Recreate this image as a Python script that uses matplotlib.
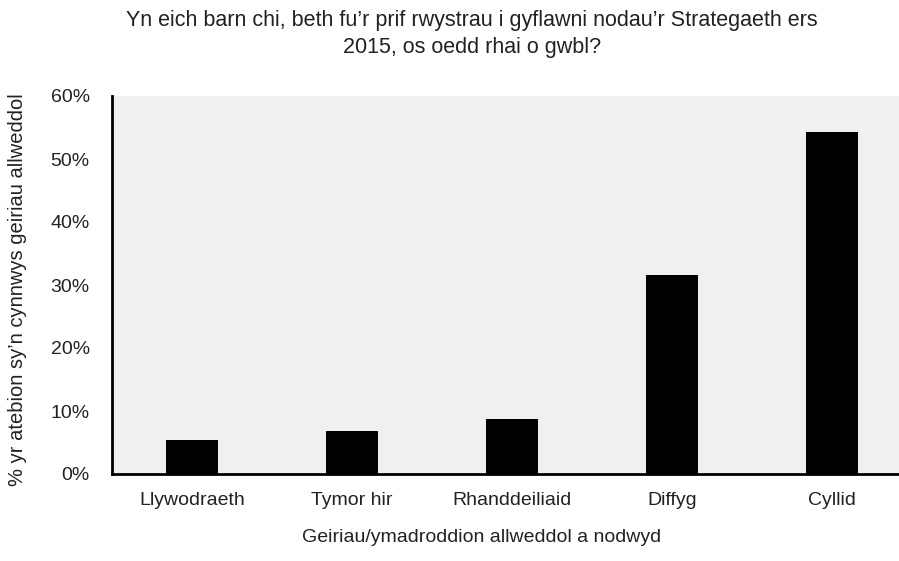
import matplotlib
matplotlib.use('Agg')
import matplotlib.pyplot as plt
from matplotlib.ticker import PercentFormatter

categories = ['Llywodraeth', 'Tymor hir', 'Rhanddeiliaid', 'Diffyg', 'Cyllid']
values = [5.35, 6.9, 8.8, 31.6, 54.3]

plt.rcParams['font.family'] = ['Liberation Sans', 'DejaVu Sans']

fig = plt.figure(figsize=(8.99, 5.61), dpi=100)
# plot area runs off the right edge like the original
ax = fig.add_axes([112 / 899, 1 - 474 / 561, 800 / 899, 378 / 561])
ax.set_facecolor('#f0f0f0')

ax.bar(range(len(categories)), values, width=0.325, color='black')
ax.set_xlim(-0.5, 4.5)
ax.set_ylim(0, 60)
ax.set_yticks(range(0, 61, 10))
ax.yaxis.set_major_formatter(PercentFormatter(decimals=0))
ax.set_xticks(range(len(categories)))
ax.set_xticklabels(categories)
ax.tick_params(length=0, labelsize=14, colors='#222222')
ax.tick_params(axis='y', pad=16)
ax.tick_params(axis='x', pad=13)

for s in ['top', 'right']:
    ax.spines[s].set_visible(False)
for s in ['left', 'bottom']:
    ax.spines[s].set_linewidth(2)
    ax.spines[s].set_color('black')

fig.text(472 / 899, 1 - 34 / 561, "Yn eich barn chi, beth fu\u2019r prif rwystrau i gyflawni nodau\u2019r Strategaeth ers\n2015, os oedd rhai o gwbl?",
         ha='center', va='center', fontsize=15.5, color='#222222', linespacing=1.35)
fig.text(18 / 899, 1 - 290 / 561, "% yr atebion sy\u2019n cynnwys geiriau allweddol",
         rotation=90, ha='center', va='center', fontsize=14.5, color='#222222')
fig.text(482 / 899, 1 - 537 / 561, "Geiriau/ymadroddion allweddol a nodwyd",
         ha='center', va='center', fontsize=14, color='#222222')

fig.savefig('out.png', dpi=100)
